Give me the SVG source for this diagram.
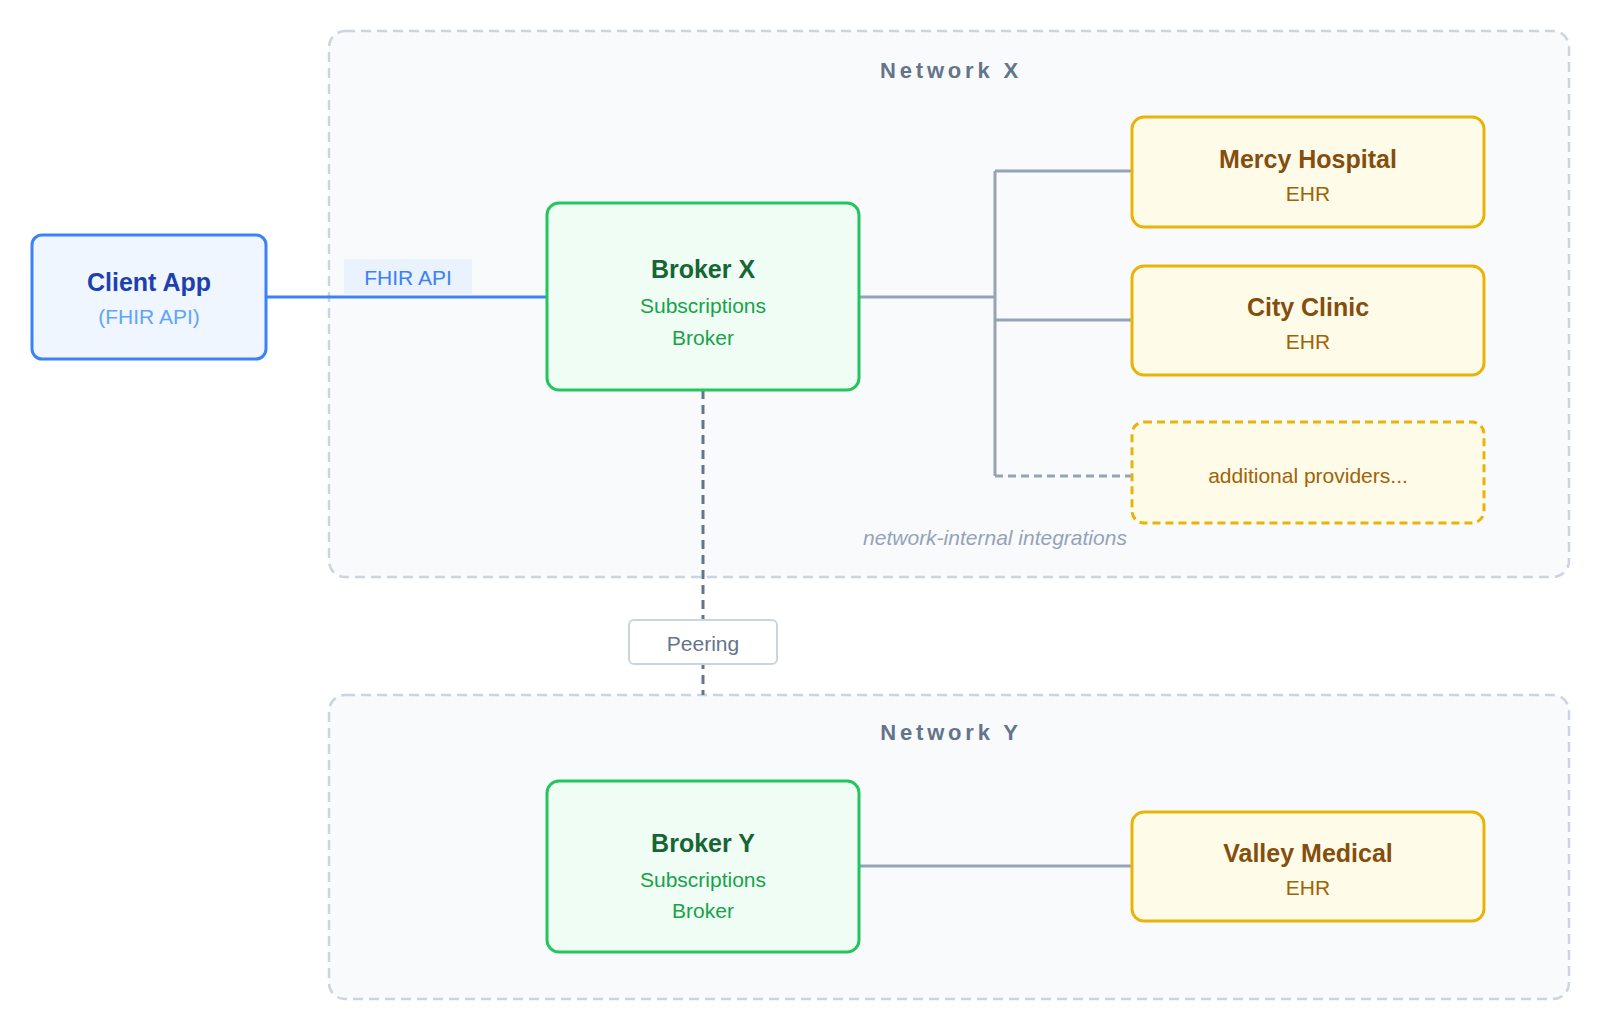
<svg xmlns="http://www.w3.org/2000/svg" width="1600" height="1034" viewBox="0 0 1600 1034">
<style>
text{font-family:"Liberation Sans",Arial,Helvetica,sans-serif}
.net{fill:#f8fafc;stroke:#cbd5e1;stroke-width:2.5;stroke-dasharray:10 6}
.ntitle{font-size:22px;font-weight:bold;fill:#64748b;letter-spacing:3.8px;text-anchor:middle}
.client{fill:#eff6ff;stroke:#3b82f6;stroke-width:3}
.broker{fill:#f0fdf4;stroke:#22c55e;stroke-width:3}
.ehr{fill:#fefce8;stroke:#eab308;stroke-width:3}
.ehrd{fill:#fefce8;stroke:#eab308;stroke-width:3;stroke-dasharray:8 5}
.t1{font-size:25px;font-weight:bold;text-anchor:middle}
.t2{font-size:21px;text-anchor:middle}
.edge{fill:none;stroke:#94a3b8;stroke-width:3}
</style>
<rect width="1600" height="1034" fill="#ffffff"/>
<g id="network-x">
<rect class="net" x="329" y="31" width="1240" height="546" rx="16"/>
<text class="ntitle" x="951" y="78">Network X</text>
</g>
<g id="network-y">
<rect class="net" x="329" y="695" width="1240" height="304" rx="16"/>
<text class="ntitle" x="951" y="740">Network Y</text>
</g>
<g id="connectors">
<line x1="266" y1="297" x2="547" y2="297" stroke="#3b82f6" stroke-width="3"/>
<rect x="344" y="259" width="128" height="35" fill="#eaf2fe"/>
<text class="t2" x="408" y="285" fill="#3b82f6">FHIR API</text>
<path class="edge" d="M859 297H995M995 171V476M995 171H1131M995 320H1131"/>
<path class="edge" d="M995 476H1131" stroke-dasharray="8 5"/>
<line x1="703" y1="390" x2="703" y2="695" stroke="#64748b" stroke-width="3" stroke-dasharray="9 6"/>
<rect x="629" y="620" width="148" height="44" rx="5" fill="#ffffff" stroke="#cbd5e1" stroke-width="2"/>
<text class="t2" x="703" y="651" fill="#64748b">Peering</text>
<line class="edge" x1="859" y1="866" x2="1131" y2="866"/>
<text class="t2" x="995" y="545" fill="#94a3b8" font-style="italic">network-internal integrations</text>
</g>
<g id="client-app">
<rect class="client" x="32" y="235" width="234" height="124" rx="10"/>
<text class="t1" x="149" y="291" fill="#1e40af">Client App</text>
<text class="t2" x="149" y="324" fill="#60a5fa">(FHIR API)</text>
</g>
<g id="broker-x">
<rect class="broker" x="547" y="203" width="312" height="187" rx="12"/>
<text class="t1" x="703" y="278" fill="#166534">Broker X</text>
<text class="t2" x="703" y="313" fill="#16a34a">Subscriptions</text>
<text class="t2" x="703" y="345" fill="#16a34a">Broker</text>
</g>
<g id="mercy-hospital">
<rect class="ehr" x="1132" y="117" width="352" height="110" rx="12"/>
<text class="t1" x="1308" y="168" fill="#854d0e">Mercy Hospital</text>
<text class="t2" x="1308" y="201" fill="#a16207">EHR</text>
</g>
<g id="city-clinic">
<rect class="ehr" x="1132" y="266" width="352" height="109" rx="12"/>
<text class="t1" x="1308" y="316" fill="#854d0e">City Clinic</text>
<text class="t2" x="1308" y="349" fill="#a16207">EHR</text>
</g>
<g id="additional-providers">
<rect class="ehrd" x="1132" y="422" width="352" height="101" rx="12"/>
<text class="t2" x="1308" y="483" fill="#a16207">additional providers...</text>
</g>
<g id="broker-y">
<rect class="broker" x="547" y="781" width="312" height="171" rx="12"/>
<text class="t1" x="703" y="852" fill="#166534">Broker Y</text>
<text class="t2" x="703" y="887" fill="#16a34a">Subscriptions</text>
<text class="t2" x="703" y="918" fill="#16a34a">Broker</text>
</g>
<g id="valley-medical">
<rect class="ehr" x="1132" y="812" width="352" height="109" rx="12"/>
<text class="t1" x="1308" y="862" fill="#854d0e">Valley Medical</text>
<text class="t2" x="1308" y="895" fill="#a16207">EHR</text>
</g>
</svg>
